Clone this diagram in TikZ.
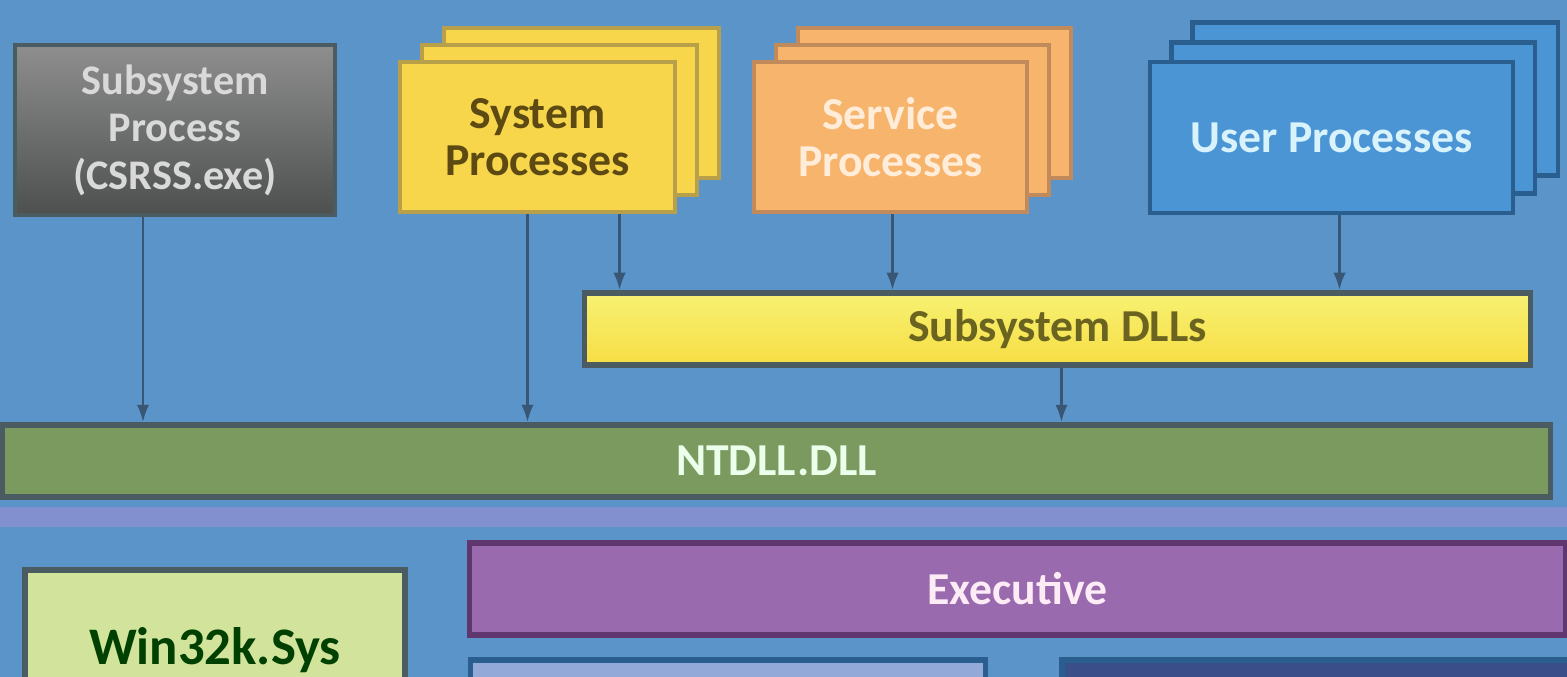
\documentclass[tikz,border=0pt]{standalone}
\usepackage{fontspec}
\setmainfont{Carlito}
\usetikzlibrary{
    arrows.meta,
    calc,
    positioning
}
\definecolor{bgblue}{HTML}{5A94C9}
\definecolor{csrtop}{HTML}{8E8E8E}
\definecolor{csrbot}{HTML}{4E5050}
\definecolor{sysfill}{HTML}{F8D64C}
\definecolor{sysline}{HTML}{B8A04A}
\definecolor{systext}{HTML}{5C4A12}
\definecolor{svcfill}{HTML}{F7B46C}
\definecolor{svcline}{HTML}{C08A5A}
\definecolor{usrfill}{HTML}{4C95D4}
\definecolor{usrline}{HTML}{2A5E8E}
\definecolor{dllfill}{HTML}{F5EE50}
\definecolor{dlltext}{HTML}{6A6420}
\definecolor{ntfill}{HTML}{7A9A60}
\definecolor{execfill}{HTML}{9A6AAE}
\definecolor{winfill}{HTML}{D2E39C}
\definecolor{kernfill}{HTML}{93A9D8}
\definecolor{halfill}{HTML}{3A4F8A}
\definecolor{darkedge}{HTML}{4A5C62}
\definecolor{wirecol}{HTML}{3A5675}
\newcommand{\layers}[5]{
    \node[#5, minimum width=#3, minimum height=#4] (#1c) at ($(#2) + (44, -34)$) {};
    \node[#5, minimum width=#3, minimum height=#4] (#1b) at ($(#2) + (22, -17)$) {};
}

\begin{document}
\begin{tikzpicture}[x=0.01cm, y=-0.01cm,
    box/.style={draw, line width=1.2pt, inner sep=0pt, align=center,
        font=\bfseries\fontsize{13}{13.5}\selectfont},
    csrbox/.style={box, draw=darkedge, top color=csrtop, bottom color=csrbot, text=white!85!black,
        font=\bfseries\fontsize{12}{13.5}\selectfont},
    sysbox/.style={box, draw=sysline, fill=sysfill, text=systext},
    svcbox/.style={box, draw=svcline, fill=svcfill, text=orange!15!white},
    usrbox/.style={box, draw=usrline, fill=usrfill, text=cyan!15!white},
    bar/.style={box, draw=darkedge, line width=1.5pt},
    link/.style={draw=wirecol, line width=0.8pt, -{Latex[length=5pt, width=3.5pt]}}
]
    \clip (0, 0) rectangle (1567, 677);
    \fill[bgblue] (0, 0) rectangle (1567, 677);
    % user mode
    \node[csrbox, minimum width=3.2cm, minimum height=1.7cm] (csrss) at (175, 130)
        {Subsystem\\Process\\(CSRSS.exe)};
    \layers{sys}{537.5, 137}{2.75cm}{1.5cm}{sysbox}
    \node[sysbox, minimum width=2.75cm, minimum height=1.5cm] (sys) at (537.5, 137)
        {System\\Processes};
    \layers{svc}{890.5, 137}{2.73cm}{1.5cm}{svcbox}
    \node[svcbox, minimum width=2.73cm, minimum height=1.5cm] (svc) at (890.5, 137)
        {Service\\Processes};
    \node[usrbox, minimum width=3.65cm, minimum height=1.53cm] (usrc) at (1375, 99) {};
    \node[usrbox, minimum width=3.63cm, minimum height=1.51cm] (usrb) at (1353, 118) {};
    \node[usrbox, minimum width=3.63cm, minimum height=1.51cm] (usr) at (1331.5, 137.5)
        {User Processes};
    \node[bar, top color=dllfill!80!white, bottom color=dllfill!85!orange, text=dlltext,
        minimum width=9.45cm, minimum height=0.72cm] (dlls) at (1057.5, 329) {Subsystem DLLs};
    \node[bar, fill=ntfill, text=green!8!white,
        minimum width=15.47cm, minimum height=0.72cm] (ntdll) at (776.5, 461) {NTDLL.DLL};
    \draw[link] ([xshift=-0.32cm]csrss.south) -- ([xshift=-0.32cm]csrss.south |- ntdll.north);
    \draw[link] ([xshift=-0.1cm]sys.south) -- ([xshift=-0.1cm]sys.south |- ntdll.north);
    \draw[link] ([xshift=0.82cm]sys.south) -- ([xshift=0.82cm]sys.south |- dlls.north);
    \draw[link] ([xshift=0.02cm]svc.south) -- ([xshift=0.02cm]svc.south |- dlls.north);
    \draw[link] ([xshift=0.08cm]usr.south) -- ([xshift=0.08cm]usr.south |- dlls.north);
    \draw[link] ([xshift=0.04cm]dlls.south) -- ([xshift=0.04cm]dlls.south |- ntdll.north);
    % kernel mode
    \fill[blue!30!violet!45!white, opacity=0.45] (0, 507) rectangle (1567, 527);
    \node[bar, draw=violet!40!darkedge, fill=execfill, text=magenta!8!white,
        minimum width=10.95cm, minimum height=0.92cm] (exec) at (1017.5, 589) {Executive};
    \node[bar, fill=winfill, text=green!25!black, font=\bfseries\fontsize{15}{16}\selectfont,
        minimum width=3.8cm, minimum height=1.6cm] (win32k) at (215, 650) {Win32k.Sys};
    \node[bar, draw=usrline, fill=kernfill, minimum width=5.14cm,
        minimum height=1cm] (kernel) at (728, 710) {};
    \node[bar, draw=usrline, fill=halfill, minimum width=5.2cm,
        minimum height=1cm] (hal) at (1322, 710) {};
\end{tikzpicture}
\end{document}
